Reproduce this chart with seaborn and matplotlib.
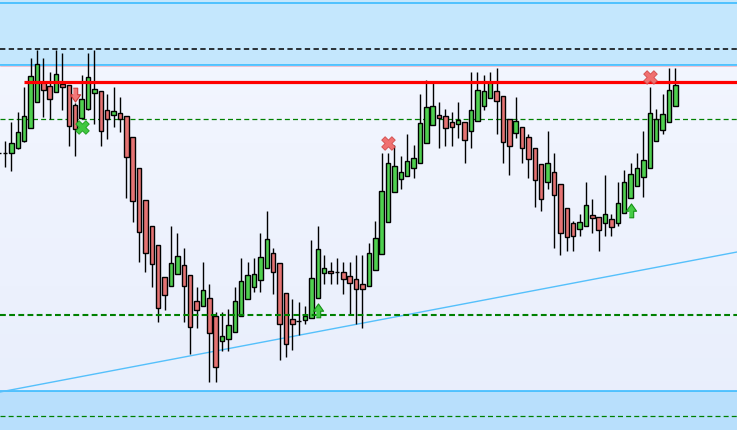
import numpy as np
import matplotlib
matplotlib.use("Agg")
import matplotlib.pyplot as plt
import seaborn as sns
from matplotlib.colors import LinearSegmentedColormap

# candle data (bar index, open/high/low/close in price units)
bar_idx = list(range(-1, 106))
opens = [277, 277, 277, 282, 289, 302, 328, 348, 344, 338, 346, 345, 325, 312, 321, 337, 339, 320, 315, 317,
         314, 293, 262, 230, 204, 185, 153, 144, 156, 165, 155, 129, 124, 132, 114, 89, 91, 98, 114, 131,
         143, 150, 162, 177, 167, 137, 111, 109, 110, 112, 132, 157, 159, 158, 158, 154, 151, 146, 144, 160,
         176, 208, 238, 251, 254, 262, 267, 287, 305, 315, 314, 308, 306, 308, 299, 309, 324, 332, 339, 334,
         311, 297, 303, 293, 282, 266, 248, 258, 246, 222, 207, 201, 204, 215, 213, 207, 211, 207, 217, 232,
         244, 253, 262, 289, 300, 308, 324]
highs = [279, 289, 308, 318, 343, 372, 380, 372, 358, 380, 377, 345, 327, 355, 377, 380, 339, 336, 343, 333,
         314, 293, 262, 230, 204, 185, 153, 204, 197, 182, 155, 143, 168, 146, 118, 118, 121, 143, 172, 168,
         172, 197, 219, 182, 167, 137, 131, 128, 124, 190, 204, 175, 168, 172, 168, 168, 175, 175, 187, 209,
         277, 277, 285, 274, 296, 285, 336, 350, 347, 328, 321, 318, 328, 308, 358, 358, 355, 358, 362, 334,
         311, 333, 303, 296, 282, 266, 299, 277, 246, 222, 209, 216, 248, 231, 213, 255, 216, 248, 260, 267,
         277, 299, 343, 321, 336, 362, 362]
lows = [275, 263, 259, 281, 288, 302, 328, 313, 311, 338, 320, 284, 274, 312, 320, 306, 284, 291, 303, 298,
        232, 208, 168, 158, 143, 108, 120, 144, 156, 108, 76, 102, 124, 48, 48, 79, 79, 98, 114, 131,
        138, 138, 162, 136, 70, 73, 80, 95, 106, 112, 132, 146, 146, 146, 136, 116, 106, 102, 144, 160,
        176, 208, 238, 241, 254, 252, 267, 287, 305, 282, 284, 284, 292, 267, 282, 309, 320, 332, 296, 267,
        255, 292, 267, 252, 223, 219, 241, 182, 175, 179, 179, 194, 204, 197, 179, 194, 194, 204, 217, 232,
        244, 233, 262, 289, 296, 308, 324]
closes = [277, 277, 287, 298, 314, 354, 366, 340, 331, 356, 343, 304, 301, 331, 353, 341, 299, 311, 319, 311,
          273, 229, 198, 177, 166, 122, 135, 167, 174, 144, 103, 120, 140, 97, 63, 94, 105, 129, 149, 155,
          156, 173, 191, 158, 106, 86, 106, 109, 114, 152, 181, 162, 157, 158, 151, 147, 141, 141, 177, 192,
          239, 267, 264, 258, 269, 272, 307, 323, 324, 312, 302, 303, 310, 290, 320, 340, 339, 348, 329, 288,
          284, 309, 282, 271, 250, 231, 267, 235, 197, 193, 194, 208, 225, 212, 200, 216, 203, 227, 248, 256,
          262, 270, 317, 311, 316, 340, 345]

# horizontal levels
resistance = 348
upper_zone = [365, 440]
upper_zone_line = 426.7
black_dash = 381.3
green_dash_hi = 310.7
green_dash_lo = 115.3
lower_zone = [-10, 38.7]
lower_dash = 13.7
trend_x = [-0.78, 114.66]
trend_y = [38, 178]

# signals
arrows_down = ([11], [335.5])
arrows_up = ([49, 98], [120.3, 220.3])
x_red = ([60, 101], [286.7, 353.3])
x_green = ([12], [302.7])

sns.set_theme(style="white")

fig = plt.figure(figsize=(7.37, 4.31), dpi=100)
ax = fig.add_axes([0, 0, 1, 1])
x0, x1 = -0.78, 114.66
ax.set_xlim(x0, x1)
ax.set_ylim(0, 431)
ax.axis("off")

# background gradient
cmap = LinearSegmentedColormap.from_list("bg", ["#e8eefc", "#f4f7ff"])
grad = np.linspace(0, 1, 256).reshape(-1, 1)
ax.imshow(grad, extent=[x0, x1, 0, 431], origin="lower", aspect="auto", cmap=cmap, zorder=0)

# zones
ax.axhspan(upper_zone[0], upper_zone[1], color="#c4e7fd", zorder=1, lw=0)
ax.axhspan(lower_zone[0], lower_zone[1], color="#b8dffc", zorder=1, lw=0)
for lvl in [upper_zone[0], upper_zone_line, lower_zone[1]]:
    ax.axhline(lvl, color="#2fb8ff", lw=1.1, zorder=2)
ax.axhline(upper_zone[0] - 1.3, color="#f0b8c8", lw=0.6, zorder=2)
ax.axhline(black_dash, color="black", lw=1.1, ls=(0, (3.5, 2.2)), zorder=2)
ax.axhline(lower_dash, color="#008000", lw=0.9, ls=(0, (4, 2.5)), zorder=2)
ax.axhline(green_dash_hi, color="#008000", lw=0.9, ls=(0, (4, 2.5)), zorder=2)

# trend line
sns.lineplot(x=trend_x, y=trend_y, color="#55c0fb", lw=1.0, ax=ax, zorder=2)

# candles
x = np.array(bar_idx)
o = np.array(opens, dtype=float)
c = np.array(closes, dtype=float)
up = c >= o
colors = np.where(up, "#4fd04f", "#e57373")
ax.vlines(x, lows, highs, color="black", lw=1.0, zorder=3)
body = np.abs(c - o)
ax.bar(x, body, bottom=np.minimum(o, c), width=0.7, color=colors,
       edgecolor="black", linewidth=1.0, zorder=4)

# levels drawn over candles
ax.axhline(green_dash_lo, color="#008000", lw=1.5, ls=(0, (2.8, 1.6)), zorder=5)
ax.plot([2.98, x1], [resistance, resistance], color="#ff0000", lw=2.3, zorder=5,
        solid_capstyle="butt")

# signal markers
down_arrow = [(-0.3, 1), (0.3, 1), (0.3, 0.1), (0.7, 0.1), (0, -0.9), (-0.7, 0.1), (-0.3, 0.1)]
up_arrow = [(vx, -vy) for vx, vy in down_arrow]
ax.scatter(arrows_down[0], arrows_down[1], marker=down_arrow, s=110, color="#f27878",
           edgecolor="#cc3a3a", linewidth=0.8, zorder=6)
ax.scatter(arrows_up[0], arrows_up[1], marker=up_arrow, s=110, color="#45cc45",
           edgecolor="#159015", linewidth=0.8, zorder=6)
sns.scatterplot(x=x_red[0], y=x_red[1], marker="X", s=95, color="#f07070",
                edgecolor="#d04a4a", linewidth=0.6, ax=ax, zorder=6)
sns.scatterplot(x=x_green[0], y=x_green[1], marker="X", s=95, color="#40c840",
                edgecolor="#1c9c1c", linewidth=0.6, ax=ax, zorder=6)

fig.savefig("out.png", dpi=100)
